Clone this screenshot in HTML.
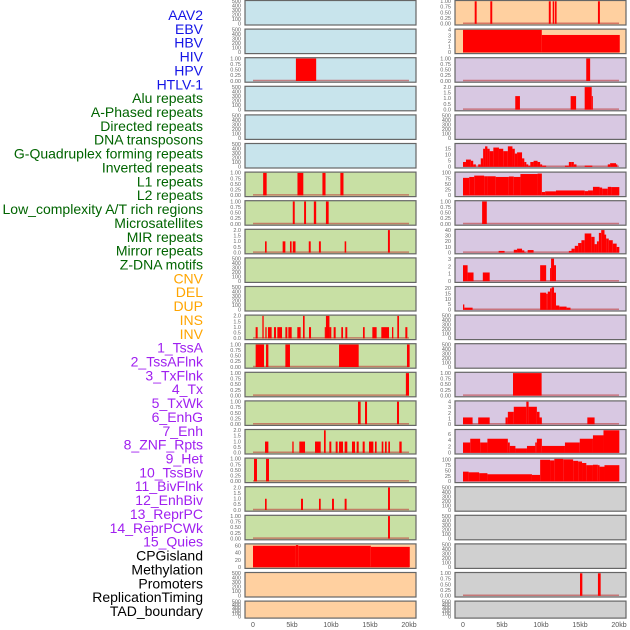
<!DOCTYPE html>
<html><head><meta charset="utf-8"><style>
html,body{margin:0;padding:0;background:#fff;width:630px;height:630px;overflow:hidden}
svg{display:block;font-family:"Liberation Sans",sans-serif}
</style></head><body>
<svg id="chart" width="630" height="630" viewBox="0 0 630 630"></svg>
<script>
const trackLabels = ["AAV2","EBV","HBV","HIV","HPV","HTLV-1","Alu repeats","A-Phased repeats","Directed repeats","DNA transposons","G-Quadruplex forming repeats","Inverted repeats","L1 repeats","L2 repeats","Low_complexity A/T rich regions","Microsatellites","MIR repeats","Mirror repeats","Z-DNA motifs","CNV","DEL","DUP","INS","INV","1_TssA","2_TssAFlnk","3_TxFlnk","4_Tx","5_TxWk","6_EnhG","7_Enh","8_ZNF_Rpts","9_Het","10_TssBiv","11_BivFlnk","12_EnhBiv","13_ReprPC","14_ReprPCWk","15_Quies","CPGisland","Methylation","Promoters","ReplicationTiming","TAD_boundary"];
const labelGroups = [6,13,5,15,5];
const xTicks = [0,5,10,15,20];
const xTickLabels = ["0","5kb","10kb","15kb","20kb"];

const tEmpty = ["0","100","200","300","400","500"];
const tOne = ["0.00","0.25","0.50","0.75","1.00"];
const tTwo = ["0.0","0.5","1.0","1.5","2.0"];

const L2 = [[5.5,8.1,1]];
const L6 = [[1.3,1.75,1],[5.7,6.45,1],[8.9,9.3,1],[11.2,11.6,1]];
const L7 = [[5.1,5.35,1],[6.55,6.8,1],[7.8,8.1,1],[9.35,9.7,1]];
const L8 = [[1.54,1.75,1],[3.8,4.15,1],[4.74,4.95,1],[5.1,5.45,1],[7.15,7.4,1],[8.45,8.7,1],[11.75,11.95,1],[17.3,17.55,2]];
const L11 = [[0.34,0.6,1],[1.2,1.37,2],[1.58,1.75,1],[1.92,2.39,1],[2.69,2.95,1],[3.12,3.72,1],[4.15,4.4,1],[4.53,4.96,1],[5.68,6.11,1],[6.41,6.62,2],[7.18,7.44,1],[9.2,9.35,1],[9.35,9.8,2],[9.8,10.04,1],[10.34,10.6,1],[11.32,11.54,1],[11.84,12.09,1],[14.1,14.32,1],[15.3,15.85,1],[16.45,17.44,1],[17.82,17.99,1],[18.5,18.72,2],[19.53,19.79,1]];
const L12 = [[0.34,1.41,1],[1.67,1.97,1],[4.15,4.74,1],[11.03,13.55,1],[19.74,20.08,1]];
const L13 = [[19.6,20.0,1]];
const L14 = [[13.46,13.8,1],[14.36,14.62,1],[18.46,18.72,1]];
const L15 = [[1.54,1.97,1],[5.04,5.21,1],[5.94,6.67,1],[7.95,8.68,1],[9.1,9.32,2],[9.79,10.04,1],[10.6,10.85,1],[11.03,11.54,1],[11.75,12.09,1],[12.69,13.08,1],[13.29,13.55,1],[14.06,14.32,1],[14.87,15.43,1],[15.64,15.85,1],[16.5,16.71,1],[16.92,17.14,1],[17.35,17.56,1],[18.76,19.06,1]];
const L16 = [[0.13,0.51,1],[1.67,2.05,1]];
const L17 = [[1.54,1.75,1],[6.15,6.41,1],[8.46,8.68,1],[10.13,10.38,1],[11.75,12.0,1],[17.31,17.56,2]];
const L18 = [[17.31,17.56,1]];
const L19 = [[0,5.5,60],[5.5,5.8,62],[5.8,15.1,60],[15.1,20.1,57]];

const R0 = [[1.5,1.75,1],[3.5,3.75,1],[11.0,11.25,1],[11.5,11.7,1],[11.8,12.0,1],[17.3,17.55,1]];
const R1 = [[0,10.1,4],[10.1,20.1,3.1]];
const R2 = [[15.8,16.3,1]];
const R3 = [[6.7,7.3,1.2],[13.8,14.5,1.2],[15.6,16.5,2],[16.5,16.65,1.2]];
const R5 = [[0,0.38,4],[0.38,1.01,6],[1.01,1.31,5],[1.31,1.65,2],[1.95,2.28,2],[2.28,2.58,7],[2.58,2.83,15],[2.83,3.13,17],[3.13,3.42,15],[3.42,3.89,13],[3.89,4.61,16],[4.61,5.16,15],[5.16,5.75,13],[5.75,6.34,17],[6.34,6.64,15],[6.64,6.93,11],[6.93,7.57,12],[7.57,7.86,7],[7.86,8.12,4],[8.12,8.37,2],[8.37,8.63,1],[8.63,9.05,4],[9.05,9.56,5],[9.56,9.89,4],[9.89,10.15,2],[10.15,10.66,1],[13.07,13.57,1],[13.57,13.87,4],[13.87,14.21,4],[14.21,14.55,2],[15.6,16.58,1],[18.56,18.86,2],[18.86,19.62,3],[19.62,19.79,2]];
const R6 = [[0,0.8,78],[0.8,1.44,82],[1.44,2.71,88],[2.71,3.13,85],[3.13,4.19,85],[4.19,5.88,82],[5.88,6.51,84],[6.51,7.36,82],[7.36,9.56,95],[9.56,10.11,97],[10.11,10.53,15],[10.53,11.92,18],[11.92,13.91,22],[13.91,15.6,22],[15.6,16.03,19],[16.03,16.66,22],[16.66,17.51,38],[17.51,17.84,35],[17.84,18.56,30],[18.56,18.99,38],[18.99,20.04,37]];
const R7 = [[2.45,3.05,1]];
const R8 = [[4.57,5.33,3],[6.51,6.93,5],[6.93,7.57,7],[7.57,7.86,4],[7.86,8.03,1],[8.29,9.05,4.5],[13.57,13.91,3],[13.91,14.33,7],[14.33,14.76,12],[14.76,15.18,17],[15.18,15.6,22],[15.6,16.45,34],[16.45,16.87,28],[16.87,17.17,15],[17.17,17.42,20],[17.42,17.72,35],[17.72,18.14,40],[18.14,18.35,32],[18.35,18.69,25],[18.69,19.2,22],[19.2,19.7,16],[19.7,20.04,10]];
const R9 = [[0,0.59,2.2],[0.59,1.35,1.2],[2.54,3.42,1.2],[9.89,10.66,2.2],[11.16,11.29,1.8],[11.29,11.67,3.1],[11.67,11.92,2.2]];
const R10 = [[0,0.17,5],[0.17,1.23,2],[9.89,10.66,16],[10.66,10.87,15],[10.87,11.16,17],[11.16,11.37,20],[11.37,11.67,21],[11.67,11.92,16],[11.92,12.35,4],[12.35,13.28,3],[13.28,13.78,2]];
const R13 = [[6.41,10.08,1]];
const R14 = [[0,1.23,1.2],[1.95,3.42,1.2],[5.45,5.75,1.2],[5.75,6.51,2.2],[6.51,8.12,3.1],[8.12,8.41,4],[8.41,9.47,3.1],[9.47,9.81,2.2],[9.81,10.11,1.2],[15.94,16.87,1.2]];
const R15 = [[0,0.93,3.3],[0.93,2.2,4.5],[2.2,3.13,3.3],[3.13,5.75,4.5],[5.75,6.0,3.3],[6.0,6.72,2.2],[6.72,8.2,1.4],[8.2,9.26,2.2],[9.26,9.47,3.3],[9.47,10.11,4.5],[10.11,13.07,2.2],[13.07,14.97,3.3],[14.97,16.66,4.5],[16.66,18.01,5.6],[18.01,20.04,7.2]];
const R16 = [[0,0.72,45],[0.72,2.07,42],[2.07,3.13,38],[3.13,8.84,33],[8.84,9.89,30],[9.89,11.16,100],[11.16,11.71,97],[11.71,12.85,104],[12.85,14.12,102],[14.12,14.76,95],[14.76,15.26,92],[15.26,15.81,85],[15.81,16.66,75],[16.66,17.29,77],[17.29,17.51,75],[17.51,18.14,68],[18.14,20.04,75]];
const R20 = [[15.0,15.3,1],[17.3,17.65,1]];

const BLUE="#c8e4ec",GREEN="#c8e0a4",ORANGE="#ffd0a0",LAV="#d8c8e2",GREY="#d0d0d0";
// [data, ymax, ticks, color]
const leftPanels = [
 [null,500,tEmpty,BLUE],[null,500,tEmpty,BLUE],[L2,1,tOne,BLUE],[null,500,tEmpty,BLUE],[null,500,tEmpty,BLUE],[null,500,tEmpty,BLUE],
 [L6,1,tOne,GREEN],[L7,1,tOne,GREEN],[L8,2,tTwo,GREEN],[null,500,tEmpty,GREEN],[null,500,tEmpty,GREEN],[L11,2,tTwo,GREEN],
 [L12,1,tOne,GREEN],[L13,1,tOne,GREEN],[L14,1,tOne,GREEN],[L15,2,tTwo,GREEN],[L16,1,tOne,GREEN],[L17,2,tTwo,GREEN],[L18,1,tOne,GREEN],
 [L19,63,["0","20","40","60"],ORANGE],[null,500,tEmpty,ORANGE],[null,500,tEmpty,ORANGE]];
const rightPanels = [
 [R0,1,tOne,ORANGE],[R1,4,["0","1","2","3","4"],ORANGE],[R2,1,tOne,LAV],[R3,2,tTwo,LAV],[null,500,tEmpty,LAV],
 [R5,18.7,["0","5","10","15"],LAV],[R6,100,["0","25","50","75","100"],LAV],[R7,1,tOne,LAV],[R8,40,["0","10","20","30","40"],LAV],
 [R9,3.1,["0","1","2","3"],LAV],[R10,21,["0","5","10","15","20"],LAV],[null,500,tEmpty,LAV],[null,500,tEmpty,LAV],
 [R13,1,tOne,LAV],[R14,4,["0","1","2","3","4"],LAV],[R15,7.2,["0","2","4","6"],LAV],[R16,104,["0","25","50","75","100"],LAV],
 [null,500,tEmpty,GREY],[null,500,tEmpty,GREY],[null,500,tEmpty,GREY],[R20,1,tOne,GREY],[null,500,tEmpty,GREY]];

const NS="http://www.w3.org/2000/svg";
const svg=document.getElementById('chart');
function mk(tag,attrs,parent){const e=document.createElementNS(NS,tag);for(const k in attrs)e.setAttribute(k,attrs[k]);(parent||svg).appendChild(e);return e;}

// labels
const groupColors=["#1414e6","#006400","#ffa500","#a020f0","#000000"];
let gi=0,gc=0;
trackLabels.forEach((t,i)=>{
  const el=mk('text',{x:203,y:15+i*13.86+5,'text-anchor':'end','font-size':14,fill:groupColors[gi]});
  el.textContent=t;
  
  
  gc++; if(gc>=labelGroups[gi]){gi++;gc=0;}
});

function xScale(col,kb){return (col===0?253:463)+kb*7.8;}
function drawPanel(col,i,p){
  const [data,ymax,ticks,color]=p;
  const px=col===0?245:455, pw=171;
  const top=i*28.6+0.5, h=(i===21?17:24.5);
  const g=mk('g',{});
  
  
  mk('rect',{x:px,y:top,width:pw,height:h,fill:color,stroke:"#666",'stroke-width':1.2},g);
  const y0=top+h-1.2, y1=top+0.8;
  const yS=v=>y0-(v/ymax)*(y0-y1);
  // tick labels
  ticks.forEach((t,k)=>{
    const v=parseFloat(t);
    const ty=yS(v)+1.8;
    const tx=mk('text',{x:px-4,y:ty,'text-anchor':'end','font-size':5.5,fill:"#666"},g);
    tx.textContent=t;
    
    
  });
  if(data){
    mk('line',{x1:xScale(col,0),x2:xScale(col,20),y1:y0-0.5,y2:y0-0.5,stroke:"rgba(190,60,60,0.6)",'stroke-width':1.5},g);
    data.forEach(d=>{
      const x=xScale(col,d[0]), w=Math.max(1,xScale(col,d[1])-x), yv=yS(d[2]);
      const r=mk('rect',{x:x,y:yv,width:w,height:y0-yv,fill:"#ff0000"},g);
      
      
    });
  }
}
leftPanels.forEach((p,i)=>drawPanel(0,i,p));
rightPanels.forEach((p,i)=>drawPanel(1,i,p));

[0,1].forEach(col=>{
  xTicks.forEach((v,k)=>{
    const t=mk('text',{x:xScale(col,v),y:627,'text-anchor':'middle','font-size':7,fill:"#555"});
    t.textContent=xTickLabels[k];
    
    
  });
});
</script>
</body></html>
